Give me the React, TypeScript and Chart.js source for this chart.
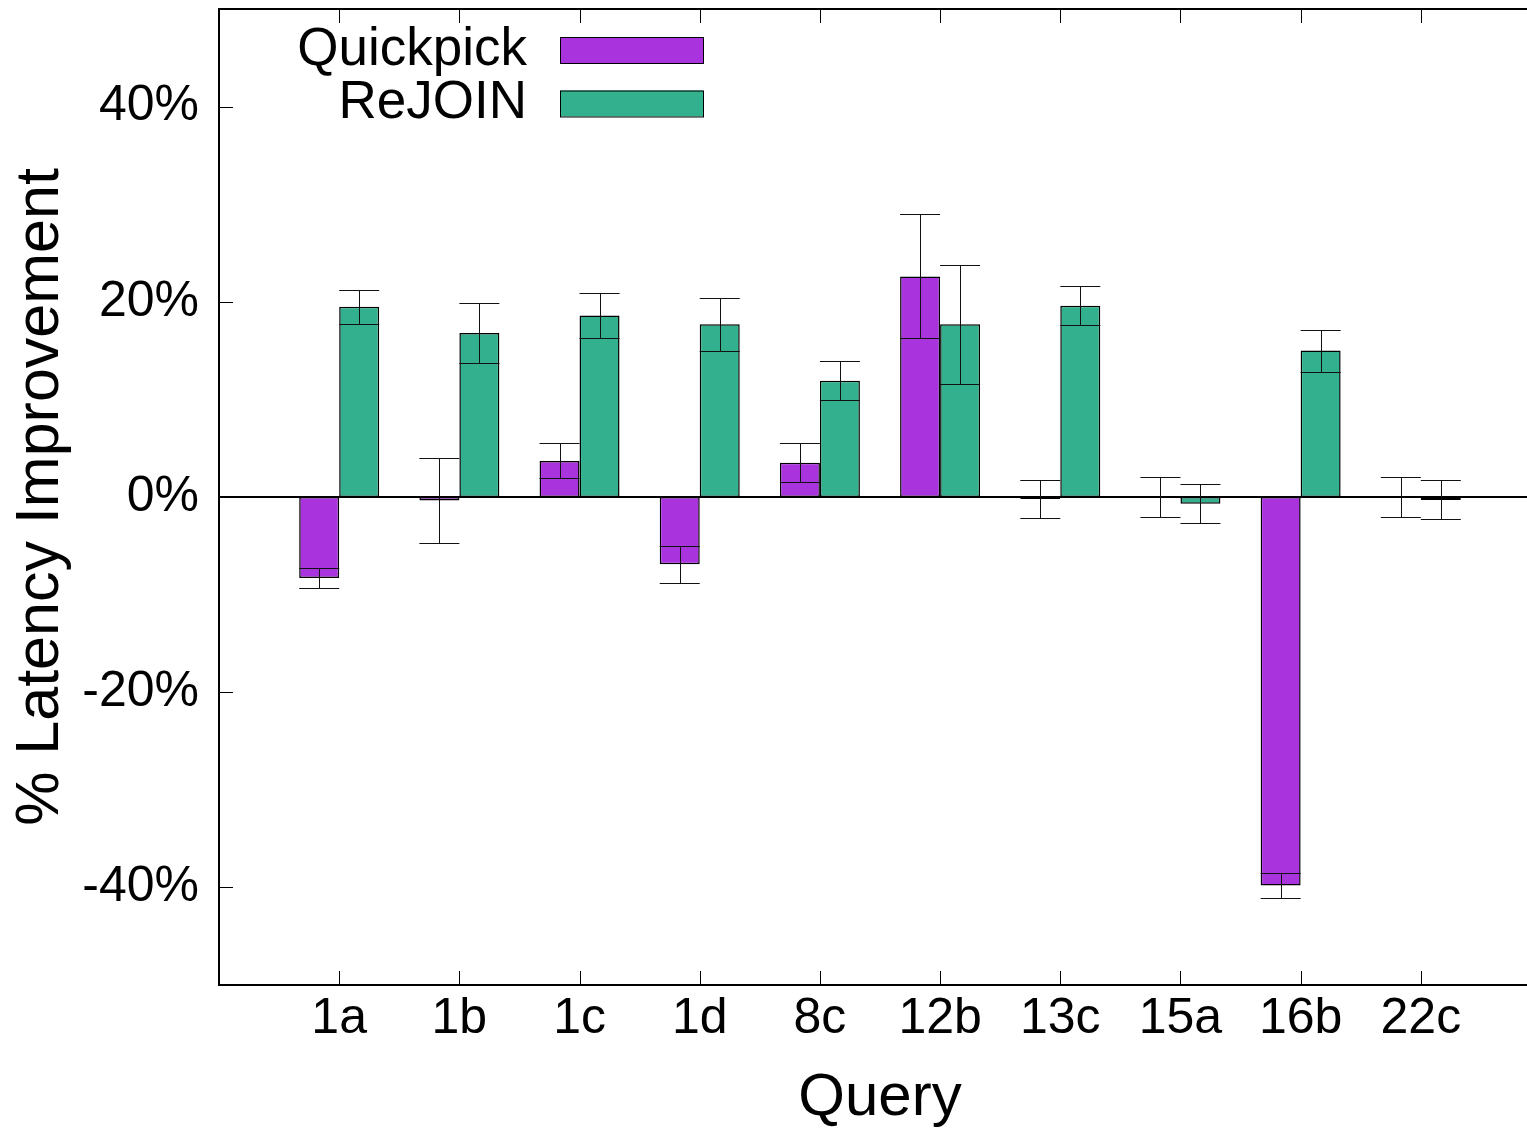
import React, { useEffect, useRef } from 'react';
import { Chart, registerables } from 'chart.js';

Chart.register(...registerables);

// ---- data ----
const categories = ['1a', '1b', '1c', '1d', '8c', '12b', '13c', '15a', '16b', '22c'];
const quickpick = [-8.3, -0.35, 3.7, -6.9, 3.5, 22.6, -0.2, 0, -39.8, 0];
const quickpickErr = [1.0, 4.35, 1.8, 1.9, 2.0, 6.35, 1.95, 2.0, 1.3, 2.0];
const rejoin = [19.5, 16.8, 18.6, 17.7, 11.9, 17.7, 19.6, -0.7, 15.0, -0.3];
const rejoinErr = [1.75, 3.05, 2.3, 2.7, 2.0, 6.1, 2.0, 2.0, 2.15, 2.0];
const yTicks = [-40, -20, 0, 20, 40];
const seriesNames = ['Quickpick', 'ReJOIN'];

const QP_COLOR = '#a933dc';
const RJ_COLOR = '#33b18f';
const FONT = "'Liberation Sans', Arial, Helvetica, sans-serif";

export default function App() {
  const ref = useRef<HTMLCanvasElement>(null);

  useEffect(() => {
    const canvas = ref.current!;
    const xs = categories.map((_, i) => i + 1);
    const values = [quickpick, rejoin];
    const errs = [quickpickErr, rejoinErr];
    const colors = [QP_COLOR, RJ_COLOR];

    const overlay = {
      id: 'gnuplotOverlay',
      afterDatasetsDraw(chart: any) {
        const { ctx, chartArea: a, scales } = chart;
        const x = scales.x;
        const y = scales.y;
        ctx.save();
        // zero axis
        const y0 = Math.round(y.getPixelForValue(0));
        ctx.strokeStyle = '#000';
        ctx.lineWidth = 2;
        ctx.beginPath();
        ctx.moveTo(a.left, y0);
        ctx.lineTo(a.right, y0);
        ctx.stroke();

        // error bars
        ctx.lineWidth = 1;
        ctx.strokeStyle = '#111';
        errs.forEach((e, d) => {
          const meta = chart.getDatasetMeta(d);
          meta.data.forEach((el: any, i: number) => {
            const v = values[d][i];
            const cx = Math.round(el.x) + 0.5;
            const hw = el.width / 2;
            const yh = Math.round(y.getPixelForValue(v + e[i])) + 0.5;
            const yl = Math.round(y.getPixelForValue(v - e[i])) + 0.5;
            ctx.beginPath();
            ctx.moveTo(cx, yh);
            ctx.lineTo(cx, yl);
            ctx.moveTo(el.x - hw, yh);
            ctx.lineTo(el.x + hw, yh);
            ctx.moveTo(el.x - hw, yl);
            ctx.lineTo(el.x + hw, yl);
            ctx.stroke();
          });
        });

        // ticks (inward, mirrored)
        const tl = 14;
        ctx.strokeStyle = '#000';
        ctx.lineWidth = 1;
        ctx.beginPath();
        xs.forEach((xv) => {
          const px = Math.round(x.getPixelForValue(xv)) + 0.5;
          ctx.moveTo(px, a.bottom);
          ctx.lineTo(px, a.bottom - tl);
          ctx.moveTo(px, a.top);
          ctx.lineTo(px, a.top + tl);
        });
        yTicks.forEach((yv) => {
          const py = Math.round(y.getPixelForValue(yv)) + 0.5;
          ctx.moveTo(a.left, py);
          ctx.lineTo(a.left + tl, py);
          ctx.moveTo(a.right, py);
          ctx.lineTo(a.right - tl, py);
        });
        ctx.stroke();

        // frame
        ctx.lineWidth = 2;
        ctx.strokeRect(a.left, a.top, a.right - a.left, a.bottom - a.top);
        ctx.restore();
      },
      afterDraw(chart: any) {
        const { ctx } = chart;
        ctx.save();
        ctx.font = `53px ${FONT}`;
        ctx.textAlign = 'right';
        ctx.textBaseline = 'middle';
        ctx.fillStyle = '#000';
        const rows = [50, 103.5];
        seriesNames.forEach((name, i) => {
          const ry = rows[i];
          ctx.fillText(name, 527, ry);
          ctx.fillStyle = colors[i];
          ctx.fillRect(560, ry - 13, 143, 26);
          ctx.strokeStyle = '#000';
          ctx.lineWidth = 1;
          ctx.strokeRect(560.5, ry - 13 + 0.5, 143, 26);
          ctx.fillStyle = '#000';
        });
        ctx.restore();
      },
    };

    const chart = new Chart(canvas, {
      type: 'bar',
      data: {
        datasets: seriesNames.map((name, d) => ({
          label: name,
          data: xs.map((xv, i) => ({ x: xv, y: values[d][i] })),
          backgroundColor: colors[d],
          borderColor: '#000',
          borderWidth: 1.5,
          borderSkipped: false,
          categoryPercentage: 80 / 120.2,
          barPercentage: 1,
        })),
      },
      options: {
        responsive: false,
        animation: false,
        devicePixelRatio: 1,
        layout: { padding: { top: 9, right: 4, left: 0, bottom: 0 } },
        plugins: {
          legend: { display: false },
          tooltip: { enabled: false },
        },
        scales: {
          x: {
            type: 'linear',
            min: 0,
            max: 11,
            offset: false,
            grid: { display: false, drawTicks: false },
            border: { display: false },
            afterBuildTicks: (s: any) => {
              s.ticks = xs.map((v) => ({ value: v }));
            },
            afterFit: (s: any) => {
              s.height = 1131 - 985;
              s.paddingLeft = 0;
              s.paddingRight = 0;
            },
            ticks: {
              autoSkip: false,
              maxRotation: 0,
              minRotation: 0,
              padding: 4,
              color: '#000',
              font: { family: FONT, size: 50 },
              callback: (v: any) => categories[Number(v) - 1] ?? '',
            },
            title: {
              display: true,
              text: 'Query',
              color: '#000',
              font: { family: FONT, size: 60 },
              padding: { top: 0, bottom: -3 },
            },
          },
          y: {
            type: 'linear',
            min: -50,
            max: 50,
            grid: { display: false, drawTicks: false },
            border: { display: false },
            afterBuildTicks: (s: any) => {
              s.ticks = yTicks.map((v) => ({ value: v }));
            },
            afterFit: (s: any) => {
              s.width = 219;
              s.paddingTop = 0;
              s.paddingBottom = 0;
            },
            ticks: {
              padding: 20,
              color: '#000',
              font: { family: FONT, size: 50 },
              callback: (v: any) => `${v}%`,
            },
            title: {
              display: true,
              text: '% Latency Improvement',
              color: '#000',
              font: { family: FONT, size: 61 },
              padding: { top: 5, bottom: 0 },
            },
          },
        },
      },
      plugins: [overlay],
    } as any);

    return () => chart.destroy();
  }, []);

  return (
    <div
      style={{
        position: 'fixed',
        left: 0,
        top: 0,
        width: 1527,
        height: 1131,
        overflow: 'hidden',
        background: '#fff',
      }}
    >
      <canvas ref={ref} width={1545} height={1131} style={{ display: 'block' }} />
    </div>
  );
}
